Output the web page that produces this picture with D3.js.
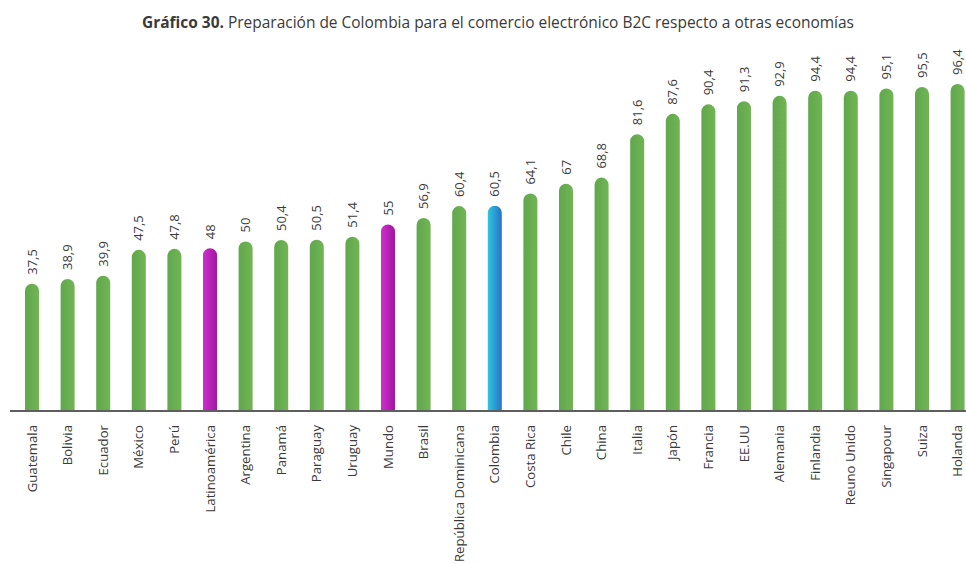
<!DOCTYPE html>
<html lang="es">
<head>
<meta charset="utf-8">
<script src="https://cdn.jsdelivr.net/npm/d3@7"></script>
<style>
  html, body { margin: 0; padding: 0; background: #fff; }
  svg { display: block; font-family: "Open Sans", "Noto Sans", sans-serif; }
</style>
</head>
<body>
<svg id="chart" width="966" height="564"></svg>
<script>
// Economies, ordered from lowest to highest index
const categories = [
  "Guatemala", "Bolivia", "Ecuador", "México", "Perú", "Latinoamérica",
  "Argentina", "Panamá", "Paraguay", "Uruguay", "Mundo", "Brasil",
  "República Dominicana", "Colombia", "Costa Rica", "Chile", "China",
  "Italia", "Japón", "Francia", "EE.UU", "Alemania", "Finlandia",
  "Reuno Unido", "Singapour", "Suiza", "Holanda"
];

// Índice de comercio electrónico B2C
const values = [
  37.5, 38.9, 39.9, 47.5, 47.8, 48, 50, 50.4, 50.5, 51.4, 55, 56.9,
  60.4, 60.5, 64.1, 67, 68.8, 81.6, 87.6, 90.4, 91.3, 92.9, 94.4,
  94.4, 95.1, 95.5, 96.4
];

// Aggregates and the highlighted country get their own fill
const aggregates = ["Latinoamérica", "Mundo"];
const highlight = ["Colombia"];

const titleBold = "Gráfico 30.";
const titleRest = " Preparación de Colombia para el comercio electrónico B2C respecto a otras economías";

const data = categories.map((c, i) => ({ name: c, value: values[i] }));

const svg = d3.select("#chart");
const baseY = 411;
const barW = 14;

const x = d3.scaleBand()
  .domain(categories)
  .range([14.2, 14.2 + 35.6 * categories.length])
  .paddingInner(0)
  .paddingOuter(0);

const y = d3.scaleLinear()
  .domain([0, 96.4])
  .range([baseY, 84]);

// Gradients
const defs = svg.append("defs");
function grad(id, c0, c1) {
  const g = defs.append("linearGradient").attr("id", id)
    .attr("x1", "0%").attr("x2", "100%").attr("y1", "0%").attr("y2", "0%");
  g.append("stop").attr("offset", "0%").attr("stop-color", c0);
  g.append("stop").attr("offset", "100%").attr("stop-color", c1);
}
grad("gGreen", "#5fa84c", "#72b455");
grad("gMagenta", "#d02fd0", "#9e179d");
grad("gBlue", "#2cc6df", "#2b72c6");

function fillFor(name) {
  if (highlight.includes(name)) return "url(#gBlue)";
  if (aggregates.includes(name)) return "url(#gMagenta)";
  return "url(#gGreen)";
}

// Bars with a rounded cap
const r = barW / 2;
svg.append("g").selectAll("path")
  .data(data)
  .join("path")
  .attr("d", d => {
    const cx = x(d.name) + x.bandwidth() / 2;
    const top = y(d.value);
    const l = cx - r, rt = cx + r;
    return `M${l},${baseY} L${l},${top + r} A${r},${r} 0 0 1 ${rt},${top + r} L${rt},${baseY} Z`;
  })
  .attr("fill", d => fillFor(d.name));

// Baseline
svg.append("line")
  .attr("x1", 10).attr("x2", 966)
  .attr("y1", baseY).attr("y2", baseY)
  .attr("stroke", "#5e5e5e").attr("stroke-width", 2.2);

// Value labels
const fmt = v => String(v).replace(".", ",");
svg.append("g").selectAll("text")
  .data(data)
  .join("text")
  .attr("transform", d => `translate(${x(d.name) + x.bandwidth() / 2},${y(d.value) - 9}) rotate(-90)`)
  .attr("dy", "0.35em")
  .attr("text-anchor", "start")
  .attr("font-size", 13)
  .attr("fill", "#3a3a3a")
  .text(d => fmt(d.value));

// Category labels
svg.append("g").selectAll("text")
  .data(data)
  .join("text")
  .attr("transform", d => `translate(${x(d.name) + x.bandwidth() / 2},${baseY + 14}) rotate(-90)`)
  .attr("dy", "0.35em")
  .attr("text-anchor", "end")
  .attr("font-size", 13.2)
  .attr("fill", "#3a3a3a")
  .text(d => d.name);

// Title
const title = svg.append("text")
  .attr("x", 142).attr("y", 28)
  .attr("font-size", 16)
  .attr("fill", "#3a3a3a")
  .attr("textLength", 712)
  .attr("lengthAdjust", "spacingAndGlyphs");
title.append("tspan").attr("font-weight", 700).text(titleBold);
title.append("tspan").text(titleRest);
</script>
</body>
</html>
